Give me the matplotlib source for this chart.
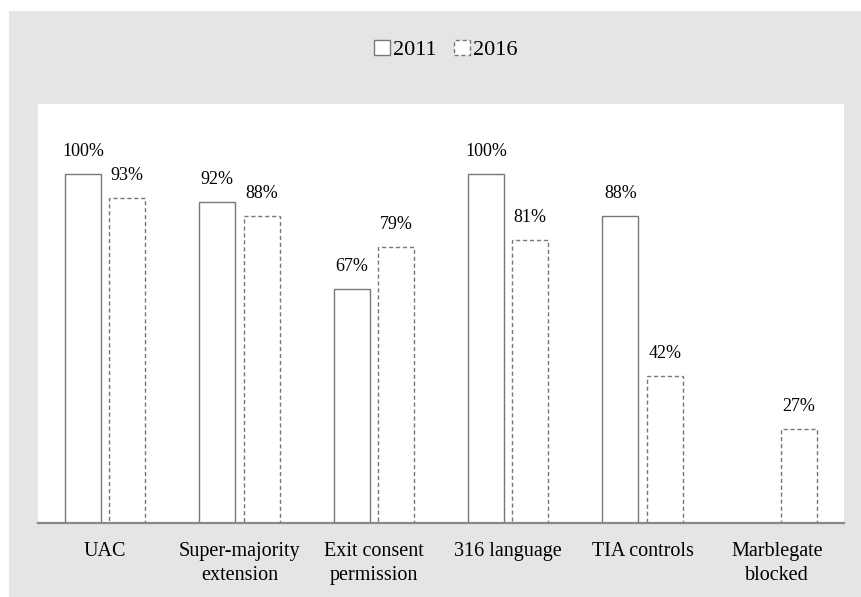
import matplotlib.pyplot as plt
from matplotlib.patches import Rectangle
import numpy as np

categories = ['UAC', 'Super-majority\nextension', 'Exit consent\npermission',
              '316 language', 'TIA controls', 'Marblegate\nblocked']
vals_2011 = [100, 92, 67, 100, 88, 0]
vals_2016 = [93, 88, 79, 81, 42, 27]

plt.rcParams['font.family'] = ['Liberation Serif', 'DejaVu Serif']

W, H = 862, 597
fig = plt.figure(figsize=(W / 100, H / 100), dpi=100, facecolor='white')

# gray panel behind everything
fig.patches.append(Rectangle((9 / W, 0), 1 - 9 / W, (H - 11) / H,
                             transform=fig.transFigure, facecolor='#e5e5e5',
                             edgecolor='none', zorder=-10))

ax = fig.add_axes([38 / W, (H - 523) / H, 806 / W, (523 - 104) / H])
ax.set_facecolor('white')

x = np.arange(len(categories))
w = 0.27
off = 0.165
b1 = ax.bar(x - off, vals_2011, w, facecolor='white', edgecolor='#777777',
            linewidth=1.0, label='2011')
b2 = ax.bar(x + off, vals_2016, w, facecolor='white', edgecolor='#777777',
            linewidth=1.0, linestyle=(0, (3, 2)), label='2016')

# Marblegate 2011 has no bar and no label
for xi, v in zip(x - off, vals_2011):
    if v > 0:
        ax.text(xi, v + 5.2, f'{v}%', ha='center', va='baseline', fontsize=13)
for xi, v in zip(x + off, vals_2016):
    ax.text(xi, v + 5.2, f'{v}%', ha='center', va='baseline', fontsize=13)

ax.set_xlim(-0.5, len(categories) - 0.5)
ax.set_ylim(0, 120)
ax.set_xticks(x)
ax.set_xticklabels(categories, fontsize=14.5, linespacing=1.35)
ax.tick_params(axis='x', length=0, pad=13.5)
ax.set_yticks([])
for s in ['top', 'left', 'right']:
    ax.spines[s].set_visible(False)
ax.spines['bottom'].set_color('#888888')
ax.spines['bottom'].set_linewidth(1.6)

fig.legend(handles=[b1, b2], loc='center', bbox_to_anchor=(446 / W, 1 - 50 / H),
           ncol=2, frameon=False, fontsize=16, handlelength=0.7, handleheight=0.7,
           handletextpad=0.15, columnspacing=0.8)

plt.savefig('out.png', dpi=100)
